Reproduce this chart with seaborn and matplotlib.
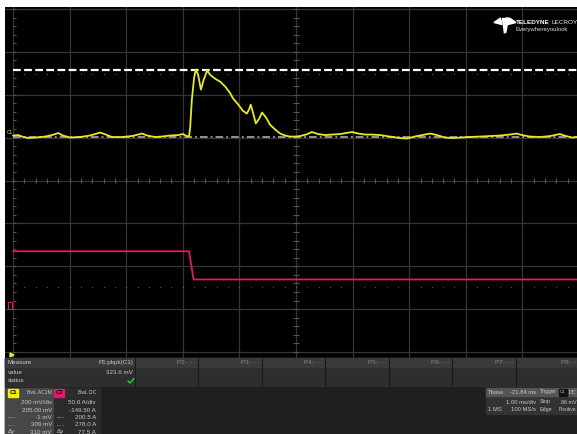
import numpy as np
import pandas as pd
import matplotlib
matplotlib.use("Agg")
import matplotlib.pyplot as plt
from matplotlib.patches import Rectangle, Polygon
import seaborn as sns

# ---------------- data ----------------
# Channel 1 (yellow), time in ms relative to screen centre, value in mV
c1_time = [-5.00, -4.91, -4.84, -4.73, -4.61, -4.43, -4.31, -4.20, -4.12, -3.99,
           -3.82, -3.64, -3.46, -3.36, -3.25, -3.07, -2.90, -2.79, -2.72, -2.63,
           -2.49, -2.37, -2.23, -2.08, -2.00, -1.93, -1.89, -1.87, -1.84, -1.80,
           -1.77, -1.73, -1.68, -1.63, -1.57, -1.52, -1.43, -1.34, -1.25, -1.17,
           -1.11, -1.02, -0.94, -0.87, -0.83, -0.80, -0.76, -0.71, -0.65, -0.60,
           -0.53, -0.46, -0.37, -0.28, -0.19, -0.11, 0.00, 0.07, 0.18, 0.28,
           0.39, 0.51, 0.64, 0.78, 0.88, 0.99, 1.10, 1.22, 1.34, 1.48,
           1.66, 1.84, 1.96, 2.10, 2.23, 2.37, 2.49, 2.63, 2.76, 2.90,
           3.07, 3.25, 3.43, 3.60, 3.78, 3.90, 3.99, 4.13, 4.31, 4.49,
           4.66, 4.77, 4.88, 4.96]
c1_mv = [4.7, 7, 0, -7, -4.7, 0, 7, 16.3, 4.7, -4.7,
         -2.3, 4.7, 18.6, 9.3, -2.3, -2.3, 2.3, 9.3, 14, 4.7,
         -2.3, 0, 4.7, 7, 11.7, 2.3, 0, 42, 172, 275,
         312, 289, 219, 266, 308, 289, 270, 256, 233, 205,
         177, 149, 121, 107, 126, 149, 112, 61, 84, 112,
         89, 56, 33, 14, 4.7, 0, 0, 2.3, 9.3, 21,
         11.7, 7, 9.3, 11.7, 16.3, 21, 14, 9.3, 9.3, 7,
         0, -7, -9.3, 0, 7, 14, 7, -4.7, -7, -4.7,
         -2.3, 0, 2.3, 4.7, 9.3, 14, 7, 0, -2.3, 2.3,
         11.7, 2.3, -4.7, -2.3]

# Channel 2 (pink), time in ms, value in A
c2_time = [-5.00, -1.89, -1.81, 4.96]
c2_amp = [67.0, 67.0, 34.1, 34.1]

# channel settings
c1_scale_mv, c1_offset_mv = 200.0, 205.0
c2_scale_a, c2_offset_a = 50.0, -149.5
c1_cursors_mv = [309.0, -1.0]
dot_rows_div = [2.49, -2.49]

measure_headers = ["P1:pkpk(C1)", "P2:- - -", "P3:- - -", "P4:- - -",
                   "P5:- - -", "P6:- - -", "P7:- - -", "P8:- -"]
measure_value = "323.6 mV"
c1_info = ["200 mV/div", "205.00 mV", "-1 mV", "309 mV", "310 mV"]
c2_info = ["50.0 A/div", "-149.50 A", "200.5 A", "278.0 A", "77.5 A"]

# ---------------- figure ----------------
W, H = 577, 434
sns.set_theme(style="dark")
plt.rcParams['font.family'] = ['Liberation Sans', 'DejaVu Sans']

fig = plt.figure(figsize=(W / 100, H / 100), dpi=100, facecolor="white")
DX, DY = 56.6, 42.9
ax = fig.add_axes([5 / W, 1 - 358 / H, (577 - 5) / W, (358 - 7) / H])
ax.set_facecolor("black")
ax.set_xticks([]); ax.set_yticks([])
for s in ax.spines.values():
    s.set_visible(False)

grid_c = "#353535"
for gx in range(-5, 6):
    ax.axvline(gx, color=grid_c, lw=0.9, zorder=1)
for gy in range(-4, 5):
    ax.axhline(gy, color=grid_c, lw=0.9, zorder=1)

tick_c = "#555555"
mx = np.arange(-5, 5.01, 0.2)
ax.vlines(mx, -0.06, 0.06, color=tick_c, lw=0.8, zorder=1)
my = np.arange(-4, 4.01, 0.2)
ax.hlines(my, -0.05, 0.05, color=tick_c, lw=0.8, zorder=1)
ax.hlines(my, -5, -4.95, color=tick_c, lw=0.8, zorder=1)
for r in dot_rows_div:
    ax.scatter(mx, np.full_like(mx, r), s=0.6, color="#6a6a6a", zorder=1, linewidths=0)

# cursors
ax.axhline((c1_cursors_mv[0] + c1_offset_mv) / c1_scale_mv, xmin=8 / 572, color="white",
           lw=1.6, ls=(0, (3.5, 1.5)), zorder=2)
ax.axhline((c1_cursors_mv[1] + c1_offset_mv) / c1_scale_mv, xmin=8 / 572, color="#b8b8b8",
           lw=1.1, ls=(0, (5, 2, 1.2, 2)), zorder=2)

df1 = pd.DataFrame({"t": c1_time, "v": c1_mv})
df1["div"] = (df1["v"] + c1_offset_mv) / c1_scale_mv
df2 = pd.DataFrame({"t": c2_time, "a": c2_amp})
df2["div"] = (df2["a"] + c2_offset_a) / c2_scale_a
sns.lineplot(data=df1, x="t", y="div", ax=ax, color="#e8e824", lw=1.3,
             estimator=None, sort=False, zorder=4)
sns.lineplot(data=df2, x="t", y="div", ax=ax, color="#e3176f", lw=1.3,
             estimator=None, sort=False, zorder=4)
ax.set_xlabel(""); ax.set_ylabel("")
ax.set_xlim(-5 - 8 / DX, -5 + (577 - 13) / DX)
ax.set_ylim(-4 - 6 / DY, 4 + 2 / DY)

# ---------------- overlay (UI chrome) in pixel coordinates ----------------
ov = fig.add_axes([0, 0, 1, 1])
ov.set_xlim(0, W); ov.set_ylim(H, 0)
ov.axis("off")
ov.patch.set_alpha(0)

txt = "#c8c8c8"
fs = 4.5

# logo
ov.add_patch(Polygon([(494, 22.5), (500.5, 18), (502, 24.5)], color="white"))
ov.add_patch(Polygon([(501.5, 18), (504.3, 18), (504.3, 33)], color="white"))
ov.add_patch(Polygon([(505.7, 18), (508.5, 18), (505.7, 33)], color="white"))
ov.add_patch(Polygon([(516, 22.5), (509.5, 18), (508, 24.5)], color="white"))
t_ted = ov.text(516, 22.5, "TELEDYNE", color="white", fontsize=4.6, fontweight="bold",
                va="center")
fig.canvas.draw()
bb = t_ted.get_window_extent(renderer=fig.canvas.get_renderer())
ov.text(bb.x1 + 1.5, 22.5, "LECROY", color="#eeeeee", fontsize=4.6, va="center")
ov.text(516, 29.5, "Everywhereyoulook", color="#dddddd", fontsize=4.3, va="center")

# channel ground markers / trigger marker
ov.text(7, 133, "C1", color="#e8e824", fontsize=3.4, va="center")
ov.add_patch(Rectangle((8, 302), 4, 7, fill=False, ec="#e3176f", lw=0.7))
ov.add_patch(Polygon([(10, 353), (14, 355), (10, 357)], color="#e8e824"))

# bottom panel
ov.add_patch(Rectangle((5, 358), 572, 76, color="#1f1f1f", zorder=1))
ov.add_patch(Rectangle((5, 358), 572, 28, color="#2e2e2e", zorder=1))
ov.add_patch(Rectangle((5, 358), 572, 9, color="#3a3a3a", zorder=1))
for sx in [135, 198, 262, 325, 389, 452, 516]:
    ov.plot([sx, sx], [358, 386], color="#1a1a1a", lw=0.8, zorder=2)
ov.text(8, 362.5, "Measure", color=txt, fontsize=fs, va="center", zorder=3)
ov.text(8, 372, "value", color=txt, fontsize=fs, va="center", zorder=3)
ov.text(8, 381, "status", color=txt, fontsize=fs, va="center", zorder=3)
col_right = [133, 196, 260, 323, 387, 450, 514, 576]
for h, xr in zip(measure_headers, col_right):
    ov.text(xr, 362.5, h, color=txt if h.startswith("P1") else "#8a8a8a",
            fontsize=fs, ha="right", va="center", zorder=3)
ov.text(133, 372, measure_value, color=txt, fontsize=fs, ha="right", va="center", zorder=3)
ov.plot([128, 130, 134], [381, 383, 378.5], color="#22cc22", lw=1.1, zorder=3)

# C1 box
ov.add_patch(Rectangle((5, 388), 48, 46, color="#474747", zorder=2))
ov.add_patch(Rectangle((8, 389), 10, 8, color="#f0f000", zorder=3))
ov.text(13, 393, "C1", color="black", fontsize=4.2, ha="center", va="center",
        fontweight="bold", zorder=4)
ov.text(52, 393, "BwL AC1M", color=txt, fontsize=3.7, ha="right", va="center", zorder=4)
ys = [403, 410, 417.5, 425, 432]
for s, y in zip(c1_info, ys):
    ov.text(52, y, s, color=txt, fontsize=fs, ha="right", va="center", zorder=4)
ov.text(8, 417.5, "-----", color=txt, fontsize=3.5, va="center", zorder=4)
ov.text(8, 425, "......", color=txt, fontsize=3.5, va="center", zorder=4)
ov.text(8, 432, "\u0394y", color=txt, fontsize=fs, va="center", zorder=4)

# C2 box
ov.add_patch(Rectangle((54, 388), 46, 46, color="#2b2b2b", zorder=2))
ov.add_patch(Rectangle((54, 389), 10, 8, color="#e3176f", zorder=3))
ov.text(59, 393, "C2", color="black", fontsize=4.2, ha="center", va="center",
        fontweight="bold", zorder=4)
ov.text(96, 393, "BwL DC", color=txt, fontsize=3.7, ha="right", va="center", zorder=4)
for s, y in zip(c2_info, ys):
    ov.text(96, y, s, color=txt, fontsize=fs, ha="right", va="center", zorder=4)
ov.text(57, 417.5, "-----", color=txt, fontsize=3.5, va="center", zorder=4)
ov.text(57, 425, "......", color=txt, fontsize=3.5, va="center", zorder=4)
ov.text(57, 432, "\u0394y", color=txt, fontsize=fs, va="center", zorder=4)

# Timebase box
ov.add_patch(Rectangle((486, 388), 51, 26, color="#333333", zorder=2))
ov.add_patch(Rectangle((486, 388), 51, 8, color="#555555", zorder=3))
ov.text(488, 392, "Tbase", color=txt, fontsize=4.2, va="center", zorder=4)
ov.text(536, 392, "-21.84 ms", color=txt, fontsize=4.2, ha="right", va="center", zorder=4)
ov.text(536, 402, "1.00 ms/div", color=txt, fontsize=4.2, ha="right", va="center", zorder=4)
ov.text(488, 409.5, "1 MS", color=txt, fontsize=4.2, va="center", zorder=4)
ov.text(536, 409.5, "100 MS/s", color=txt, fontsize=4.2, ha="right", va="center", zorder=4)

# Trigger box
ov.add_patch(Rectangle((538, 388), 39, 26, color="#333333", zorder=2))
ov.add_patch(Rectangle((538, 388), 39, 8, color="#555555", zorder=3))
ov.text(539.5, 392, "Trigger", color=txt, fontsize=3.9, va="center", zorder=4)
ov.add_patch(Rectangle((559, 389), 7.5, 6.5, color="#111111", zorder=4))
ov.text(562.7, 392, "C1", color=txt, fontsize=3.2, ha="center", va="center", zorder=5)
ov.text(576.5, 392, "DC", color=txt, fontsize=3.9, ha="right", va="center", zorder=4)
ov.text(539.5, 402, "Stop", color=txt, fontsize=3.9, va="center", zorder=4)
ov.text(576.5, 402, "86 mV", color=txt, fontsize=3.9, ha="right", va="center", zorder=4)
ov.text(539.5, 409.5, "Edge", color=txt, fontsize=3.9, va="center", zorder=4)
ov.text(576.5, 409.5, "Positive", color=txt, fontsize=3.6, ha="right", va="center", zorder=4)

fig.savefig("out.png", dpi=100, facecolor="white")
